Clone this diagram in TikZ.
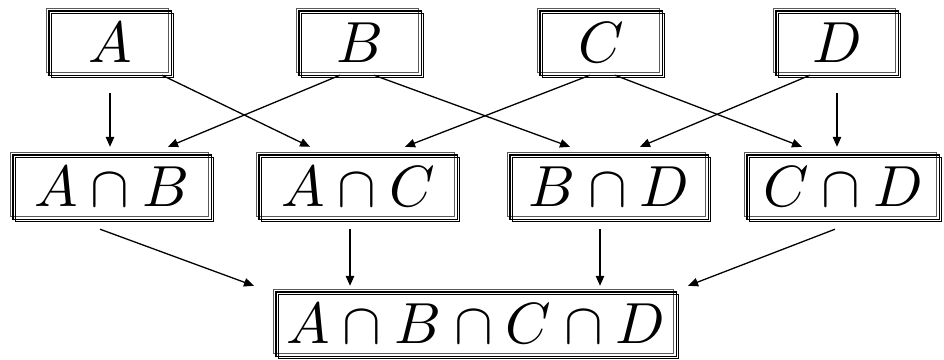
\documentclass[tikz,border=0pt]{standalone}
\usepackage{graphicx}
\usetikzlibrary{arrows.meta}
\newcommand{\bigset}[1]{\scalebox{5.8}{$#1$}}
\begin{document}
\begin{tikzpicture}[x=1pt,y=-1pt,
  setbox/.style={minimum width=#1, minimum height=64pt, inner sep=0pt},
  link/.style={line width=1.3pt, -{Triangle[length=10pt,width=8.5pt]}},
]
\useasboundingbox (0,0) rectangle (944,359);

% top row: single sets
\node[setbox=122pt] (a) at (110,43) {\bigset{A}};
\node[setbox=122pt] (b) at (360,43) {\bigset{B}};
\node[setbox=122pt] (c) at (601,43) {\bigset{C}};
\node[setbox=122pt] (d) at (837,43) {\bigset{D}};

% middle row: pairwise intersections
\node[setbox=198pt] (ab) at (112,187) {\bigset{A\cap B}};
\node[setbox=198pt] (ac) at (358,187) {\bigset{A\cap C}};
\node[setbox=198pt] (bd) at (609,187) {\bigset{B\cap D}};
\node[setbox=192pt] (cd) at (843,187) {\bigset{C\cap D}};

% bottom: full intersection
\node[setbox=400pt] (abcd) at (476,324) {\bigset{A\cap B\cap C\cap D}};

% shadowed frames around every box
\foreach \n in {a,b,c,d,ab,ac,bd,cd,abcd}{
  \draw[gray!70!black, line width=1.2pt]
    ([shift={(-2.5,-2.5)}]\n.north west) rectangle ([shift={(-2.5,-2.5)}]\n.south east);
  \draw[line width=1.4pt] (\n.north west) rectangle (\n.south east);
  \draw[line width=1.4pt]
    ([shift={(2.5,2.5)}]\n.north west) rectangle ([shift={(2.5,2.5)}]\n.south east);
}

% top row to middle row
\draw[link] ([yshift=-18]a.south) -- ([yshift=8]ab.north -| a.south);
\draw[link] ([xshift=52]a.south) -- ([xshift=-48,yshift=8]ac.north);
\draw[link] ([xshift=-20]b.south) -- ([xshift=56,yshift=8]ab.north);
\draw[link] ([xshift=14]b.south) -- ([xshift=-39,yshift=8]bd.north);
\draw[link] ([xshift=-11]c.south) -- ([xshift=47,yshift=8]ac.north);
\draw[link] ([xshift=14]c.south) -- ([xshift=-41,yshift=8]cd.north);
\draw[link] ([xshift=-27]d.south) -- ([xshift=31,yshift=8]bd.north);
\draw[link] ([yshift=-18]d.south) -- ([yshift=8]cd.north -| d.south);

% middle row to bottom
\draw[link] ([xshift=-12,yshift=-10]ab.south) -- ([xshift=-222,yshift=6]abcd.north);
\draw[link] ([xshift=-8,yshift=-10]ac.south) -- ([yshift=6]abcd.north -| 350,0);
\draw[link] ([xshift=-9,yshift=-10]bd.south) -- ([yshift=6]abcd.north -| 600,0);
\draw[link] ([xshift=-8,yshift=-10]cd.south) -- ([xshift=212,yshift=6]abcd.north);
\end{tikzpicture}
\end{document}
